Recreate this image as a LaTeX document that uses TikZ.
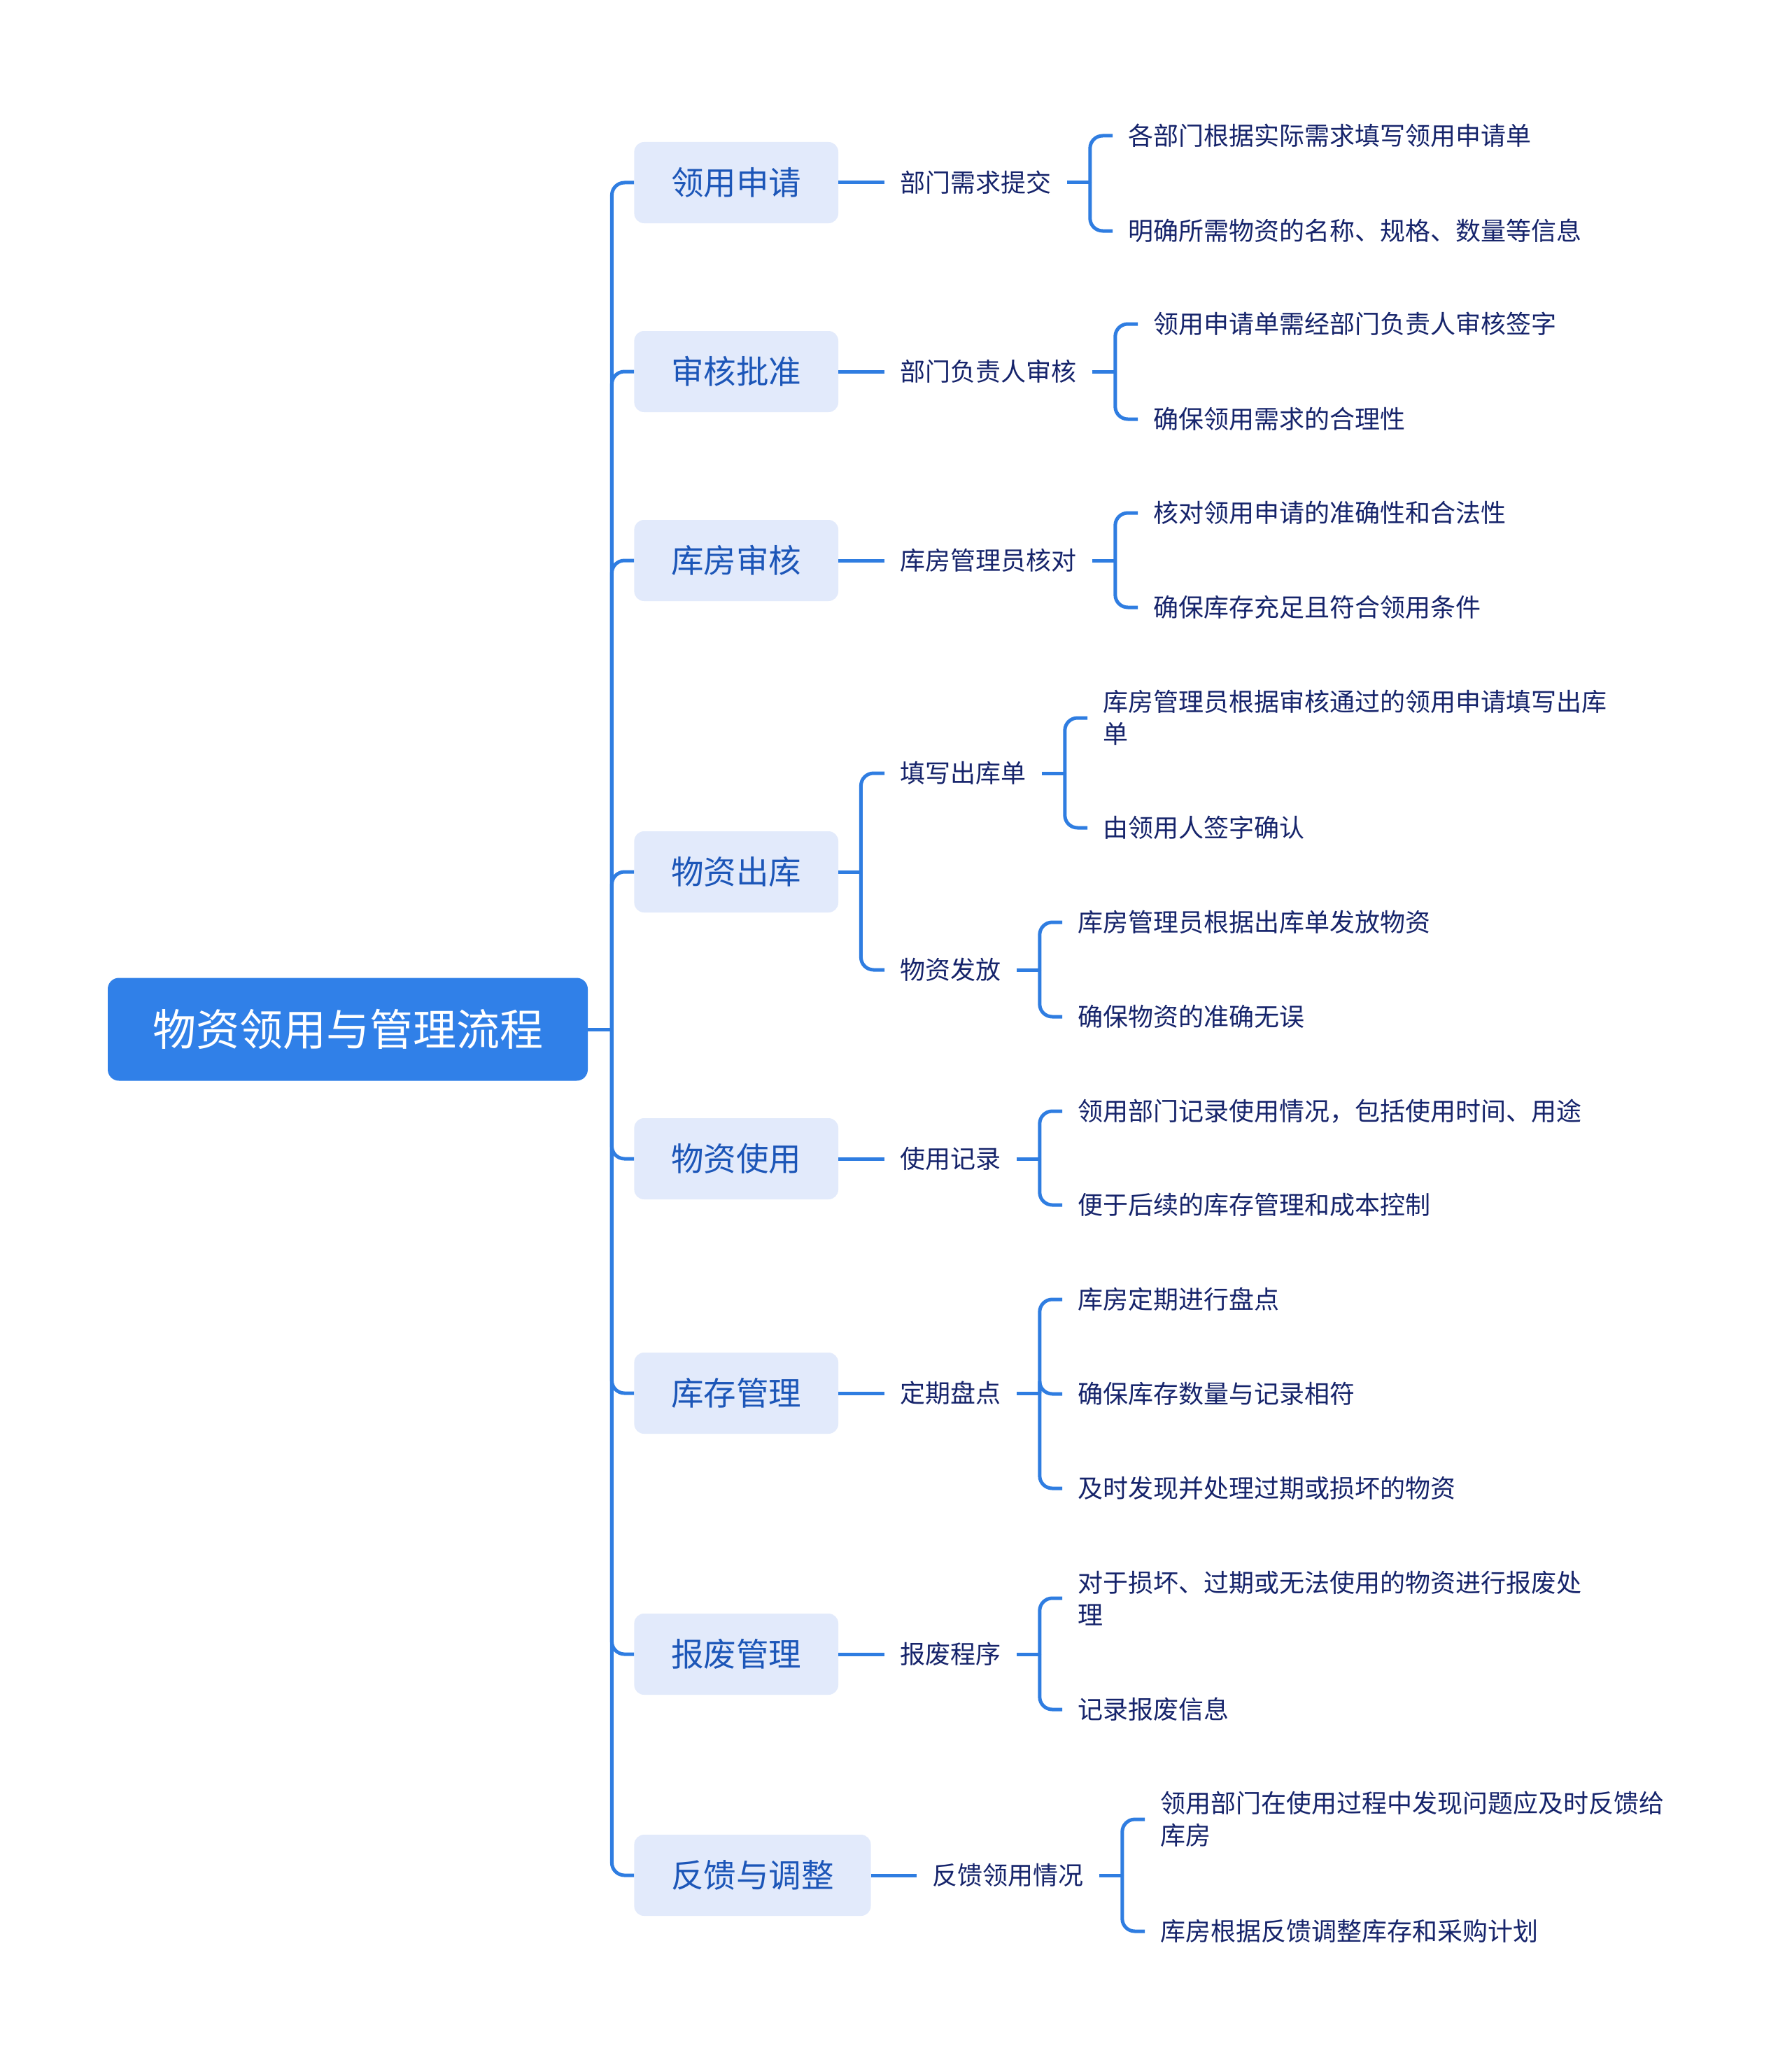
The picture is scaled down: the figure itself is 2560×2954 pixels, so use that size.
\documentclass[tikz,border=0pt]{standalone}
\usepackage{fontspec}
\setmainfont{Noto Sans CJK SC}
\usetikzlibrary{calc}
\definecolor{lineblue}{HTML}{2F7DE1}
\definecolor{rootblue}{HTML}{3080E8}
\definecolor{lvlfill}{HTML}{E2EAFB}
\definecolor{lvltext}{HTML}{1C56B8}
\definecolor{navy}{HTML}{16246B}
\begin{document}
\begin{tikzpicture}[x=0.5pt,y=-0.5pt,
  conn/.style={draw=lineblue,line width=2.5pt},
  elbow/.style={conn,rounded corners=9pt},
  rootbox/.style={fill=rootblue,rounded corners=8pt,text=white,font=\fontsize{31pt}{37pt}\selectfont,minimum width=343pt,minimum height=73.5pt,inner sep=0pt},
  topic/.style={fill=lvlfill,rounded corners=7pt,text=lvltext,font=\fontsize{23.25pt}{28pt}\selectfont,inner xsep=26.4pt,inner ysep=0pt,minimum height=58pt,anchor=west},
  sub/.style={text=navy,font=\fontsize{18pt}{23pt}\selectfont,inner xsep=11pt,inner ysep=3pt,anchor=west,align=left},
]
\fill[white] (0,0) rectangle (2560,2954);
\useasboundingbox (0,0) rectangle (2560,2954);

% root
\node[rootbox] (root) at (497,1471) {物资领用与管理流程};

% level 1
\node[topic] (t1) at (906,261) {领用申请};
\node[topic] (t2) at (906,531) {审核批准};
\node[topic] (t3) at (906,801) {库房审核};
\node[topic] (t4) at (906,1246) {物资出库};
\node[topic] (t5) at (906,1656) {物资使用};
\node[topic] (t6) at (906,1991) {库存管理};
\node[topic] (t7) at (906,2364) {报废管理};
\node[topic] (t8) at (906,2680) {反馈与调整};

% level 2
\node[sub] (s1) at (1264,261) {部门需求提交};
\node[sub] (s2) at (1264,531) {部门负责人审核};
\node[sub] (s3) at (1264,801) {库房管理员核对};
\node[sub] (s4a) at (1264,1105) {填写出库单};
\node[sub] (s4b) at (1264,1386) {物资发放};
\node[sub] (s5) at (1264,1656) {使用记录};
\node[sub] (s6) at (1264,1991) {定期盘点};
\node[sub] (s7) at (1264,2364) {报废程序};
\node[sub] (s8) at (1310,2680) {反馈领用情况};

% level 3
\node[sub] (a1) at (1590,194) {各部门根据实际需求填写领用申请单};
\node[sub] (a2) at (1590,330) {明确所需物资的名称、规格、数量等信息};
\node[sub] (b1) at (1626,463) {领用申请单需经部门负责人审核签字};
\node[sub] (b2) at (1626,599) {确保领用需求的合理性};
\node[sub] (c1) at (1626,733) {核对领用申请的准确性和合法性};
\node[sub] (c2) at (1626,868) {确保库存充足且符合领用条件};
\node[sub] (d1) at (1554,1026) {库房管理员根据审核通过的领用申请填写出库\\单};
\node[sub] (d2) at (1554,1183) {由领用人签字确认};
\node[sub] (e1) at (1518,1318) {库房管理员根据出库单发放物资};
\node[sub] (e2) at (1518,1453) {确保物资的准确无误};
\node[sub] (f1) at (1518,1588) {领用部门记录使用情况，包括使用时间、用途};
\node[sub] (f2) at (1518,1722) {便于后续的库存管理和成本控制};
\node[sub] (g1) at (1518,1857) {库房定期进行盘点};
\node[sub] (g2) at (1518,1992) {确保库存数量与记录相符};
\node[sub] (g3) at (1518,2127) {及时发现并处理过期或损坏的物资};
\node[sub] (h1) at (1518,2284) {对于损坏、过期或无法使用的物资进行报废处\\理};
\node[sub] (h2) at (1518,2443) {记录报废信息};
\node[sub] (k1) at (1636,2600) {领用部门在使用过程中发现问题应及时反馈给\\库房};
\node[sub] (k2) at (1636,2760) {库房根据反馈调整库存和采购计划};

% root -> level 1
\draw[conn] (root.east) -- ++(34,0) coordinate (sp0);
\foreach \t in {t1,t2,t3,t4,t5,t6,t7,t8}
  \draw[elbow] (sp0) |- (\t.west);

% level 1 -> level 2
\draw[conn] (t1.east) -- (s1.west);
\draw[conn] (t2.east) -- (s2.west);
\draw[conn] (t3.east) -- (s3.west);
\draw[conn] (t4.east) -- ++(32,0) coordinate (sp4);
\draw[elbow] (sp4) |- (s4a.west);
\draw[elbow] (sp4) |- (s4b.west);
\draw[conn] (t5.east) -- (s5.west);
\draw[conn] (t6.east) -- (s6.west);
\draw[conn] (t7.east) -- (s7.west);
\draw[conn] (t8.east) -- (s8.west);

% level 2 -> level 3
\draw[conn] (s1.east) -- ++(33,0) coordinate (q1);
\foreach \c in {a1,a2} \draw[elbow] (q1) |- (\c.west);
\draw[conn] (s2.east) -- ++(33,0) coordinate (q2);
\foreach \c in {b1,b2} \draw[elbow] (q2) |- (\c.west);
\draw[conn] (s3.east) -- ++(33,0) coordinate (q3);
\foreach \c in {c1,c2} \draw[elbow] (q3) |- (\c.west);
\draw[conn] (s4a.east) -- ++(33,0) coordinate (q4);
\foreach \c in {d1,d2} \draw[elbow] (q4) |- (\c.west);
\draw[conn] (s4b.east) -- ++(33,0) coordinate (q5);
\foreach \c in {e1,e2} \draw[elbow] (q5) |- (\c.west);
\draw[conn] (s5.east) -- ++(33,0) coordinate (q6);
\foreach \c in {f1,f2} \draw[elbow] (q6) |- (\c.west);
\draw[conn] (s6.east) -- ++(33,0) coordinate (q7);
\foreach \c in {g1,g2,g3} \draw[elbow] (q7) |- (\c.west);
\draw[conn] (s7.east) -- ++(33,0) coordinate (q8);
\foreach \c in {h1,h2} \draw[elbow] (q8) |- (\c.west);
\draw[conn] (s8.east) -- ++(33,0) coordinate (q9);
\foreach \c in {k1,k2} \draw[elbow] (q9) |- (\c.west);
\end{tikzpicture}
\end{document}
